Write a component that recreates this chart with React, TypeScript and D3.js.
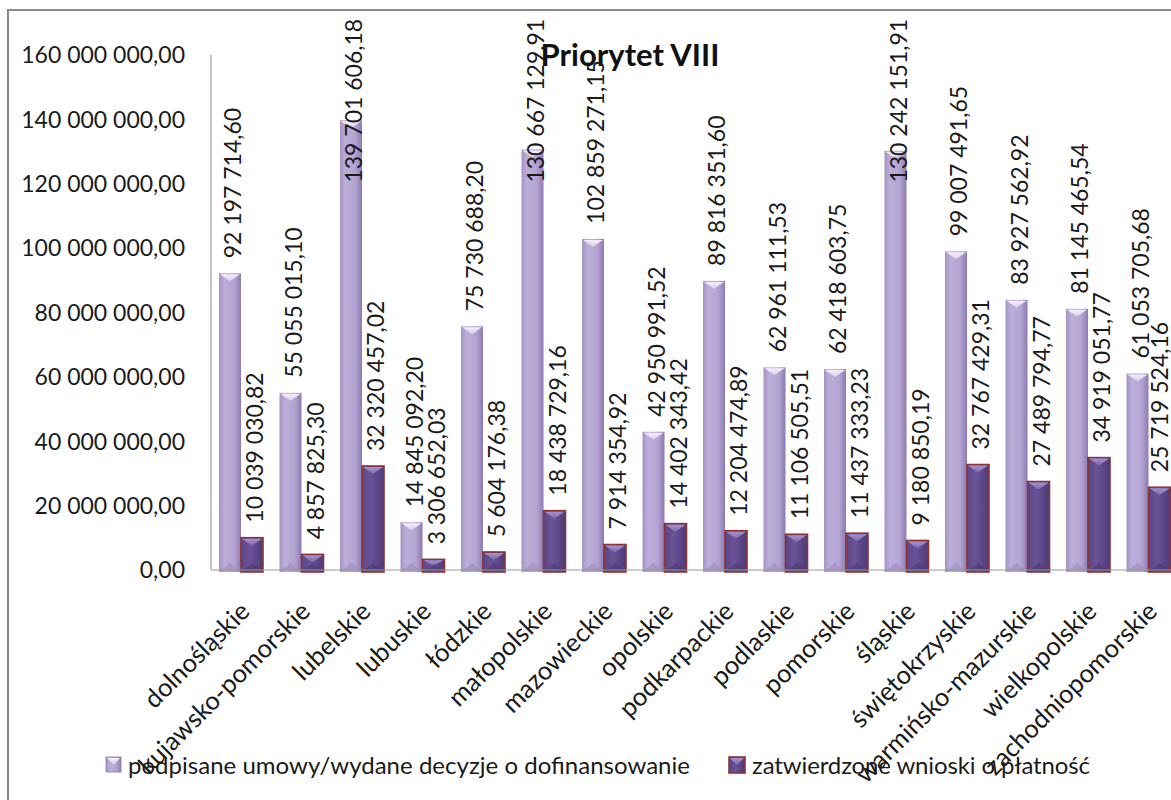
import React from "react";
import * as d3 from "d3";

const categories = [
  "dolnośląskie", "kujawsko-pomorskie", "lubelskie", "lubuskie", "łódzkie",
  "małopolskie", "mazowieckie", "opolskie", "podkarpackie", "podlaskie",
  "pomorskie", "śląskie", "świętokrzyskie", "warmińsko-mazurskie",
  "wielkopolskie", "zachodniopomorskie",
];
const signedValues = [
  92197714.6, 55055015.1, 139701606.18, 14845092.2, 75730688.2,
  130667129.91, 102859271.15, 42950991.52, 89816351.6, 62961111.53,
  62418603.75, 130242151.91, 99007491.65, 83927562.92, 81145465.54,
  61053705.68,
];
const approvedValues = [
  10039030.82, 4857825.3, 32320457.02, 3306652.03, 5604176.38,
  18438729.16, 7914354.92, 14402343.42, 12204474.89, 11106505.51,
  11437333.23, 9180850.19, 32767429.31, 27489794.77, 34919051.77,
  25719524.16,
];
const seriesNames = [
  "podpisane umowy/wydane decyzje o dofinansowanie",
  "zatwierdzone wnioski o płatność",
];
const yTicks = [0, 20e6, 40e6, 60e6, 80e6, 100e6, 120e6, 140e6, 160e6];
const title = "Priorytet VIII";

const W = 1171;
const H = 800;
const plotLeft = 211;
const plotTop = 55;
const plotBottom = 570;
const bandW = 60.5;
const FONT = "Lato, 'Open Sans', sans-serif";
const FS = 23;

const locale = d3.formatLocale({
  decimal: ",",
  thousands: "\u00a0",
  grouping: [3],
  currency: ["", ""],
});
const fmt = locale.format(",.2f");

export default function App() {
  const y = d3.scaleLinear().domain([0, 160e6]).range([plotBottom, plotTop]);
  const x = d3
    .scaleBand<string>()
    .domain(categories)
    .range([plotLeft, plotLeft + bandW * categories.length])
    .padding(0);
  const inner = d3.scaleBand<number>().domain([0, 1]).range([8, 52]).padding(0);
  const bw = inner.bandwidth();
  const series = [signedValues, approvedValues];

  const charW = FS * 0.505;
  const labelLen = (s: string) => s.length * charW;

  return (
    <svg
      width={W}
      height={H}
      style={{ position: "absolute", left: 0, top: 0, background: "#fff" }}
      fontFamily={FONT}
    >
      <defs>
        <linearGradient id="gLight" x1="0" x2="1" y1="0" y2="0">
          <stop offset="0%" stopColor="#a493c6" />
          <stop offset="25%" stopColor="#bcaed9" />
          <stop offset="70%" stopColor="#b3a3d1" />
          <stop offset="100%" stopColor="#8c7ab2" />
        </linearGradient>
        <linearGradient id="gDark" x1="0" x2="1" y1="0" y2="0">
          <stop offset="0%" stopColor="#5a4586" />
          <stop offset="40%" stopColor="#6a5497" />
          <stop offset="100%" stopColor="#4d3a77" />
        </linearGradient>
        <linearGradient id="gLightTop" x1="0" x2="0" y1="0" y2="1">
          <stop offset="0%" stopColor="#f6eefb" />
          <stop offset="100%" stopColor="#d9cdea" />
        </linearGradient>
        <linearGradient id="gDarkTop" x1="0" x2="0" y1="0" y2="1">
          <stop offset="0%" stopColor="#a792cf" />
          <stop offset="100%" stopColor="#7d68ad" />
        </linearGradient>
      </defs>

      <rect x={8} y={10} width={1300} height={900} fill="#fff" stroke="#8a8a8a" strokeWidth={2} />

      <text x={630} y={66} textAnchor="middle" fontSize={31} fontWeight="bold" fill="#111">
        {title}
      </text>

      {yTicks.map((t) => (
        <text
          key={t}
          x={185}
          y={y(t)}
          dy="0.36em"
          textAnchor="end"
          fontSize={FS}
          fill="#1a1a1a"
        >
          {fmt(t)}
        </text>
      ))}

      {categories.map((c, i) => (
        <g key={c}>
          {series.map((vals, s) => {
            const v = vals[i];
            const bx = (x(c) as number) + (inner(s) as number);
            const top = y(v);
            const h = plotBottom + 2 - top;
            const cap = Math.min(8, h / 2);
            return (
              <g key={s}>
                <rect
                  x={bx}
                  y={top}
                  width={bw}
                  height={h}
                  fill={s === 0 ? "url(#gLight)" : "url(#gDark)"}
                  stroke={s === 0 ? "none" : "#8e3434"}
                  strokeWidth={s === 0 ? 0 : 1.6}
                />
                <polygon
                  points={`${bx + 1},${top + 1} ${bx + bw - 1},${top + 1} ${bx + bw / 2},${top + cap}`}
                  fill={s === 0 ? "url(#gLightTop)" : "url(#gDarkTop)"}
                />
                <polygon
                  points={`${bx + 1},${plotBottom + 1} ${bx + bw - 1},${plotBottom + 1} ${bx + bw / 2},${plotBottom - cap + 1}`}
                  fill={s === 0 ? "#9d8cbf" : "#4a3870"}
                  opacity={0.6}
                />
              </g>
            );
          })}
        </g>
      ))}

      <line x1={plotLeft} x2={plotLeft} y1={plotTop} y2={plotBottom} stroke="#9a9a9a" strokeWidth={1.2} />
      <line x1={plotLeft} x2={W} y1={plotBottom} y2={plotBottom} stroke="#9a9a9a" strokeWidth={1.2} />

      {categories.map((c, i) =>
        series.map((vals, s) => {
          const v = vals[i];
          const label = fmt(v);
          const cx = (x(c) as number) + (inner(s) as number) + bw / 2 + 3;
          let bottom = y(v) - 15;
          const len = labelLen(label);
          if (bottom - len < 20) bottom = 20 + len;
          return (
            <text
              key={`${c}-${s}`}
              transform={`translate(${Math.min(cx + 8, 1168)},${bottom}) rotate(-90)`}
              fontSize={FS}
              fill="#1a1a1a"
            >
              {label}
            </text>
          );
        })
      )}

      {categories.map((c) => {
        const cx = (x(c) as number) + bandW / 2;
        return (
          <text
            key={c}
            transform={`translate(${cx + 10},${613}) rotate(-45)`}
            textAnchor="end"
            fontSize={25.5}
            fill="#1a1a1a"
          >
            {c}
          </text>
        );
      })}

      <g>
        <rect x={106} y={757} width={15} height={15} fill="url(#gLight)" stroke="#8c7ab2" strokeWidth={0.8} />
        <polygon points="107,758 120,758 113.5,765" fill="url(#gLightTop)" />
        <text x={128} y={774} fontSize={24} fill="#1a1a1a" textLength={562} lengthAdjust="spacing">
          {seriesNames[0]}
        </text>
        <rect x={729} y={757} width={16} height={16} fill="url(#gDark)" stroke="#8e3434" strokeWidth={1.6} />
        <polygon points="730,758 744,758 737,765" fill="url(#gDarkTop)" />
        <text x={752} y={774} fontSize={24} fill="#1a1a1a" textLength={338} lengthAdjust="spacing">
          {seriesNames[1]}
        </text>
      </g>
    </svg>
  );
}
